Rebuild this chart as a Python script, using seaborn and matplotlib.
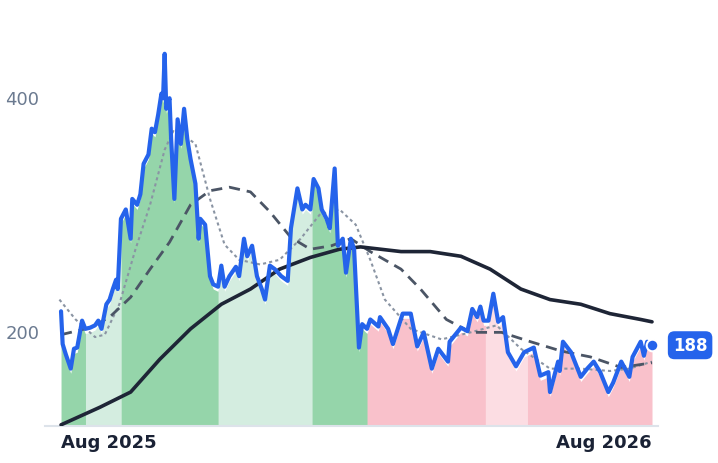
import numpy as np
import pandas as pd
import matplotlib
matplotlib.use("Agg")
import matplotlib.pyplot as plt
import seaborn as sns

days = [0,1,3,6,8,10,13,15,18,21,23,25,28,30,32,34,35,37,40,43,
        44,47,49,51,54,56,58,60,62,63,64,65,67,68,70,72,74,76,78,80,
        83,85,86,89,92,94,97,99,101,104,108,110,113,115,118,121,124,126,129,132,
        136,140,142,146,149,151,154,156,159,161,164,166,169,171,174,176,179,181,184,186,
        189,191,196,197,202,205,211,216,220,224,229,233,239,240,247,251,254,257,259,261,
        264,267,270,273,276,281,286,292,296,301,302,307,308,310,315,321,325,329,333,338,
        341,346,351,353,358,360,362,365]
price = [217,189,180,168,185,186,209,202,203,205,209,202,223,227,236,244,236,296,304,279,
         313,308,317,343,351,373,370,385,403,399,437,390,399,364,313,381,360,390,364,347,
         326,279,296,291,247,240,238,256,238,247,255,247,279,264,273,247,236,227,256,253,
         247,243,288,322,304,308,304,330,322,304,296,288,339,273,279,250,279,270,186,206,
         202,210,204,212,202,189,215,215,187,199,168,185,174,191,203,200,219,212,221,209,
         209,232,208,212,182,170,182,186,162,165,148,174,166,191,182,161,168,174,165,148,
         156,174,161,178,191,179,191,188]

long_days = [0,24,43,61,80,99,117,135,154,172,185,210,228,247,265,284,302,321,339,358,365]
long_ma = [120,135,148,176,202,223,236,253,263,270,272,268,268,264,253,236,227,223,215,210,208]
mid_days = [0,18,30,43,55,67,80,92,104,117,129,142,154,167,179,191,210,222,238,253,272,290,309,327,346,365]
mid_ma = [197,203,212,229,253,276,308,320,323,319,302,280,270,273,279,268,253,236,210,199,199,191,183,178,169,173]
short_days = [-1,9,21,27,36,46,55,64,70,83,92,101,110,123,135,148,160,172,182,191,200,216,235,253,269,284,302,321,339,351,365]
short_ma = [227,210,195,197,223,270,308,355,373,360,313,274,261,257,261,279,300,304,291,261,227,202,193,199,205,185,168,168,166,168,174]

seg_bounds = [0,15,37,97,155,189,262,288,365]
seg_colors = ["#95d5aa","#d4ede0","#95d5aa","#d4ede0","#95d5aa","#f9c1cb","#fcdde3","#f9c1cb"]

sns.set_theme(style="white")
fig = plt.figure(figsize=(7.18,4.64), dpi=100)
ax = fig.add_axes([45/718, 37/464, 613/718, 407/464])

grid = np.linspace(0, 365, 3000)
pg = np.interp(grid, days, price)
for i in range(len(seg_bounds)-1):
    a, b = seg_bounds[i], seg_bounds[i+1]
    m = (grid >= a) & (grid <= b + 0.3)
    ax.fill_between(grid[m], 119, pg[m] - 4, color=seg_colors[i], lw=0, zorder=1)

sns.lineplot(x=short_days, y=short_ma, ax=ax, color="#8a94a3", lw=1.5, linestyle=(0,(1.5,1.5)), zorder=2)
sns.lineplot(x=mid_days, y=mid_ma, ax=ax, color="#4b5565", lw=2, linestyle=(0,(4,2.5)), zorder=2)
sns.lineplot(x=long_days, y=long_ma, ax=ax, color="#1e2536", lw=2.6, zorder=3)
sns.lineplot(x=days, y=price, ax=ax, color="#2563eb", lw=3, zorder=4)

ax.scatter([days[-1]], [price[-1]], s=70, color="#2563eb", edgecolor="white", linewidth=1.5, zorder=5, clip_on=False)
ax.annotate(str(price[-1]), (days[-1], price[-1]), xytext=(15, 0), textcoords="offset points",
            ha="left", va="center", color="white", fontsize=12, fontweight="bold",
            bbox=dict(boxstyle="round,pad=0.3,rounding_size=0.4", fc="#2563eb", ec="none"), annotation_clip=False)

ax.set_xlim(-9.9, 368.7)
ax.set_ylim(119, 466.7)
ax.set_yticks([200, 400])
ax.set_yticklabels(["200", "400"], color="#6b7a90", fontsize=13)
ax.set_xticks([0, 365])
labs = ax.set_xticklabels(["Aug 2025", "Aug 2026"], fontsize=13, fontweight="bold", color="#1a2235")
labs[0].set_ha("left"); labs[1].set_ha("right")
ax.tick_params(length=0, pad=5)
ax.tick_params(axis="y", pad=4)
for s in ["top", "right", "left"]:
    ax.spines[s].set_visible(False)
ax.spines["bottom"].set_color("#dde3ea")
ax.spines["bottom"].set_linewidth(1.5)
ax.set_xlabel(""); ax.set_ylabel("")
fig.savefig("out.png", dpi=100)
